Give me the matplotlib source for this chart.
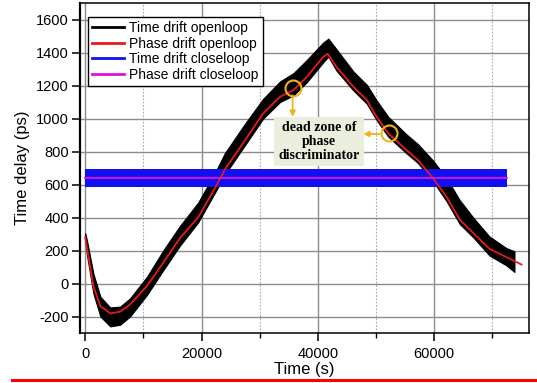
import matplotlib
matplotlib.use("Agg")
import matplotlib.pyplot as plt
from matplotlib.lines import Line2D
import numpy as np

plt.rcParams['font.family'] = ['Liberation Sans', 'DejaVu Sans']
plt.rcParams['axes.unicode_minus'] = False

# phase drift openloop (red)
t_red = [0, 300, 1400, 2600, 4300, 6000, 7700, 10600, 13400, 16300, 19400, 22300,
         24000, 27500, 30600, 33500, 35800, 38100, 40900, 41700, 43200, 46100, 48400,
         50100, 52100, 55200, 57200, 59800, 62100, 64400, 66700, 69500, 72400, 75000]
y_red = [280, 216, -16, -137, -181, -171, -127, -16, 125, 276, 400, 578,
         690, 870, 1031, 1132, 1172, 1252, 1373, 1392, 1313, 1192, 1112,
         1011, 910, 810, 749, 638, 527, 387, 306, 210, 160, 115]

# time drift openloop (black, noisy band): upper / lower envelope
t_blk = [0, 300, 1400, 2600, 4300, 6000, 7700, 10600, 13400, 16300, 19400, 22300,
         24000, 27500, 30600, 33500, 35800, 38100, 40900, 41800, 43200, 46100, 48400,
         50100, 52100, 55200, 57200, 59800, 62100, 64400, 66700, 69500, 72400, 73800]
y_blk_hi = [305, 260, 60, -80, -145, -140, -90, 40, 200, 350, 490, 670,
            790, 970, 1120, 1225, 1275, 1355, 1460, 1484, 1420, 1285, 1205,
            1110, 1010, 905, 845, 745, 640, 505, 400, 285, 215, 195]
y_blk_lo = [270, 170, -60, -200, -260, -250, -200, -70, 80, 230, 370, 550,
            660, 840, 1000, 1100, 1140, 1220, 1340, 1375, 1290, 1170, 1090,
            990, 890, 790, 730, 620, 500, 360, 280, 170, 110, 70]

# time drift closeloop (blue band) and phase drift closeloop (magenta)
t_close = [0, 72600]
y_blue_hi = [692, 692]
y_blue_lo = [585, 585]
y_mag = [638, 638]

labels = ["Time drift openloop", "Phase drift openloop",
          "Time drift closeloop", "Phase drift closeloop"]
colors = ["black", "#e8191b", "#1010f0", "#e010e0"]

dead_x = [35660, 52200]
dead_y = [1186, 914]
orange = "#f2b21a"

fig = plt.figure(figsize=(5.37, 3.83), dpi=100)
ax = fig.add_axes([80/537, 1-333/383, 449/537, 330/383])

ax.fill_between(t_blk, y_blk_lo, y_blk_hi, color="black", lw=0.8, zorder=2)
ax.fill_between(t_close, y_blue_lo, y_blue_hi, color=colors[2], lw=0, zorder=3)
ax.plot(t_red, y_red, color=colors[1], lw=1.3, zorder=4)
ax.plot(t_close, y_mag, color=colors[3], lw=1.3, zorder=5)

ax.set_xlim(-900, 76300)
ax.set_ylim(-300, 1700)
ax.set_xticks([0, 20000, 40000, 60000])
ax.set_xticks([10000, 30000, 50000, 70000], minor=True)
ax.set_yticks(np.arange(-200, 1601, 200))
ax.set_yticks(np.arange(-300, 1701, 100)[1::2], minor=True)
ax.grid(which="major", color="#8c8c8c", lw=1.0, zorder=0)
ax.grid(which="minor", color="#a8a8a8", lw=0.8, ls=(0, (1.5, 1.5)), zorder=0)
ax.set_axisbelow(True)
ax.tick_params(which="major", direction="out", length=6, width=1.1, labelsize=10.5, pad=2)
ax.tick_params(which="minor", direction="out", length=3.5, width=1.0)
ax.tick_params(axis="x", pad=4)
for s in ax.spines.values():
    s.set_linewidth(1.1)
ax.spines["left"].set_linewidth(1.6)

ax.set_xlabel("Time (s)", fontsize=12, labelpad=1)
ax.set_ylabel("Time delay (ps)", fontsize=12, labelpad=4)

handles = [Line2D([], [], color=c, lw=2) for c in colors]
ax.legend(handles, labels, loc="upper left", bbox_to_anchor=(0.018, 0.958),
          borderaxespad=0, fontsize=10, labelspacing=0.12, handlelength=2.3,
          handletextpad=0.35, borderpad=0.3, fancybox=False, framealpha=1,
          edgecolor="black")

# dead zone annotation
ax.plot(dead_x, dead_y, "o", mfc="none", mec=orange, mew=1.5, ms=11.5, zorder=6)
ax.annotate("", xy=(35660, 1010), xytext=(35660, 1140),
            arrowprops=dict(arrowstyle="-|>", color=orange, lw=1.3,
                            mutation_scale=8, shrinkA=0, shrinkB=0), zorder=6)
ax.annotate("", xy=(47800, 906), xytext=(50650, 906),
            arrowprops=dict(arrowstyle="-|>", color=orange, lw=1.3,
                            mutation_scale=8, shrinkA=0, shrinkB=0), zorder=6)
ax.text(40180, 861, "dead zone of\nphase\ndiscriminator", family="Liberation Serif",
        weight="bold", fontsize=10, ha="center", va="center", linespacing=1.1,
        bbox=dict(boxstyle="square,pad=0.3", fc="#e9eedd", ec="none"), zorder=7)

fig.add_artist(Line2D([12/537, 1.0], [1-380/383, 1-380/383], color="#ff0000", lw=2.2))

fig.savefig("out.png", dpi=100)
